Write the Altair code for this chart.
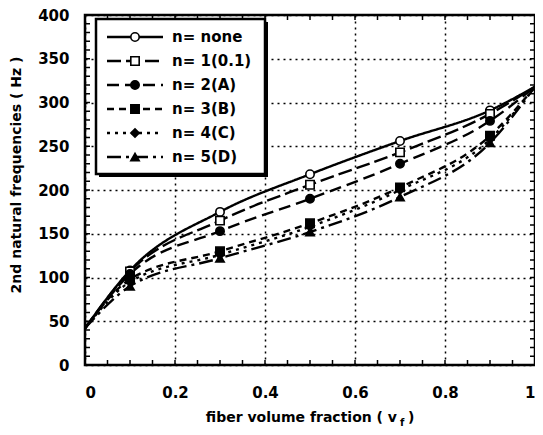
import altair as alt
import pandas as pd

# ---- data ----
vf = [0.0, 0.1, 0.3, 0.5, 0.7, 0.9, 1.0]
series = ["n= none", "n= 1(0.1)", "n= 2(A)", "n= 3(B)", "n= 4(C)", "n= 5(D)"]
f_none = [42, 108, 175, 218, 256, 291, 318]
f_n1 = [42, 107, 165, 206, 243, 287, 318]
f_n2 = [42, 104, 153, 190, 230, 279, 318]
f_n3 = [42, 98, 130, 162, 203, 262, 318]
f_n4 = [42, 95, 126, 158, 200, 258, 318]
f_n5 = [42, 90, 122, 152, 192, 254, 318]
x_ticks = [0, 0.2, 0.4, 0.6, 0.8, 1]
y_ticks = [0, 50, 100, 150, 200, 250, 300, 350, 400]
x_minor = [round(i * 0.05, 2) for i in range(21)]
y_minor = list(range(0, 401, 10))

values = [f_none, f_n1, f_n2, f_n3, f_n4, f_n5]
rows = []
for s, vals in zip(series, values):
    for x, y in zip(vf, vals):
        rows.append({"series": s, "vf": x, "freq": y})
df = pd.DataFrame(rows)

W, H = 450, 350
FONT = "DejaVu Sans"

dashes = [[1, 0], [14, 5], [12, 6], [7, 5], [3, 5], [14, 5, 3, 5]]
shapes = ["circle", "square", "circle", "square", "diamond", "triangle-up"]
fills = ["white", "white", "black", "black", "black", "black"]

xs = alt.Scale(domain=[0, 1], nice=False, zero=False)
ys = alt.Scale(domain=[0, 400], nice=False)
dash_scale = alt.Scale(domain=series, range=dashes)
shape_scale = alt.Scale(domain=series, range=shapes)
fill_scale = alt.Scale(domain=series, range=fills)

xaxis = alt.Axis(values=x_ticks, format="~g", grid=True, ticks=False, domain=False,
                 gridDash=[2, 4], gridColor="black", gridWidth=1.5, gridOpacity=1,
                 labelFont=FONT, labelFontSize=15, labelFontWeight="bold",
                 labelColor="black", labelPadding=20, title=None)

base = alt.Chart(df)

lines = base.mark_line(interpolate="monotone", color="black", strokeWidth=2.4).encode(
    x=alt.X("vf:Q", scale=xs, axis=xaxis),
    y=alt.Y("freq:Q", scale=ys,
            axis=alt.Axis(values=y_ticks, grid=True, ticks=False, domain=False,
                          gridDash=[2, 4], gridColor="black", gridWidth=1.5, gridOpacity=1,
                          labelFont=FONT, labelFontSize=15, labelFontWeight="bold",
                          labelColor="black", labelPadding=16, title=None)),
    strokeDash=alt.StrokeDash("series:N", scale=dash_scale, legend=None),
    detail="series:N",
)

points = base.transform_filter(
    (alt.datum.vf > 0.05) & (alt.datum.vf < 0.95)
).mark_point(size=70, strokeWidth=1.6, opacity=1, color="black").encode(
    x=alt.X("vf:Q", scale=xs, axis=xaxis),
    y=alt.Y("freq:Q", scale=ys, axis=None),
    shape=alt.Shape("series:N", scale=shape_scale, legend=None),
    fill=alt.Fill("series:N", scale=fill_scale, legend=None),
)

# minor ticks on all four sides
tx = pd.DataFrame({"t": x_minor})
ty = pd.DataFrame({"t": y_minor})
tick_b = alt.Chart(tx).mark_rule(color="black", strokeWidth=1.5).encode(
    x=alt.X("t:Q", scale=xs, axis=xaxis), y=alt.value(H), y2=alt.value(H - 5))
tick_t = alt.Chart(tx).mark_rule(color="black", strokeWidth=1.5).encode(
    x=alt.X("t:Q", scale=xs, axis=xaxis), y=alt.value(0), y2=alt.value(5))
tick_l = alt.Chart(ty).mark_rule(color="black", strokeWidth=1.5).encode(
    y=alt.Y("t:Q", scale=ys, axis=None), x=alt.value(0), x2=alt.value(5))
tick_r = alt.Chart(ty).mark_rule(color="black", strokeWidth=1.5).encode(
    y=alt.Y("t:Q", scale=ys, axis=None), x=alt.value(W), x2=alt.value(W - 5))

# legend box
shadow = alt.Chart(pd.DataFrame({"a": [0]})).mark_rect(fill="black").encode(
    x=alt.value(14), x2=alt.value(183), y=alt.value(7), y2=alt.value(162))
box = alt.Chart(pd.DataFrame({"a": [0]})).mark_rect(
    fill="white", stroke="black", strokeWidth=2.5).encode(
    x=alt.value(11), x2=alt.value(180), y=alt.value(4), y2=alt.value(159))

leg = pd.DataFrame({"series": series, "row": list(range(len(series)))})
ly = alt.Scale(domain=[0, 5], range=[22, 142])
leg_lines = alt.Chart(leg).mark_rule(color="black", strokeWidth=2.4).encode(
    x=alt.value(22), x2=alt.value(78),
    y=alt.Y("row:Q", scale=ly, axis=None),
    strokeDash=alt.StrokeDash("series:N", scale=dash_scale, legend=None),
)
leg_pts = alt.Chart(leg).mark_point(size=70, strokeWidth=1.6, opacity=1, color="black").encode(
    x=alt.value(50),
    y=alt.Y("row:Q", scale=ly, axis=None),
    shape=alt.Shape("series:N", scale=shape_scale, legend=None),
    fill=alt.Fill("series:N", scale=fill_scale, legend=None),
)
leg_txt = alt.Chart(leg).mark_text(align="left", baseline="middle", font=FONT,
                                   fontSize=15, fontWeight="bold", color="black").encode(
    x=alt.value(87),
    y=alt.Y("row:Q", scale=ly, axis=None),
    text="series:N",
)

# axis titles
one = pd.DataFrame({"a": [0]})
ytitle = alt.Chart(one).mark_text(angle=270, align="center", baseline="middle", font=FONT,
                                  fontSize=14, fontWeight="bold", color="black").encode(
    x=alt.value(-68), y=alt.value(160), text=alt.value("2nd natural frequencies ( Hz )"))
xtitle1 = alt.Chart(one).mark_text(align="right", baseline="middle", font=FONT,
                                   fontSize=14, fontWeight="bold", color="black").encode(
    x=alt.value(312), y=alt.value(403), text=alt.value("fiber volume fraction ( v"))
xtitle_sub = alt.Chart(one).mark_text(align="left", baseline="middle", font=FONT,
                                      fontSize=10, fontWeight="bold", color="black").encode(
    x=alt.value(315), y=alt.value(408), text=alt.value("f"))
xtitle2 = alt.Chart(one).mark_text(align="left", baseline="middle", font=FONT,
                                   fontSize=14, fontWeight="bold", color="black").encode(
    x=alt.value(323), y=alt.value(403), text=alt.value(")"))

chart = alt.layer(
    lines, points, tick_b, tick_t, tick_l, tick_r,
    shadow, box, leg_lines, leg_pts, leg_txt,
    ytitle, xtitle1, xtitle_sub, xtitle2,
).resolve_scale(y="independent").properties(
    width=W, height=H,
    autosize=alt.AutoSizeParams(type="none"),
    padding={"left": 77, "top": 7, "right": 0, "bottom": 62},
).configure_view(stroke="black", strokeWidth=2.5)

chart.save("out.html", embed_options={"renderer": "svg", "actions": False})
